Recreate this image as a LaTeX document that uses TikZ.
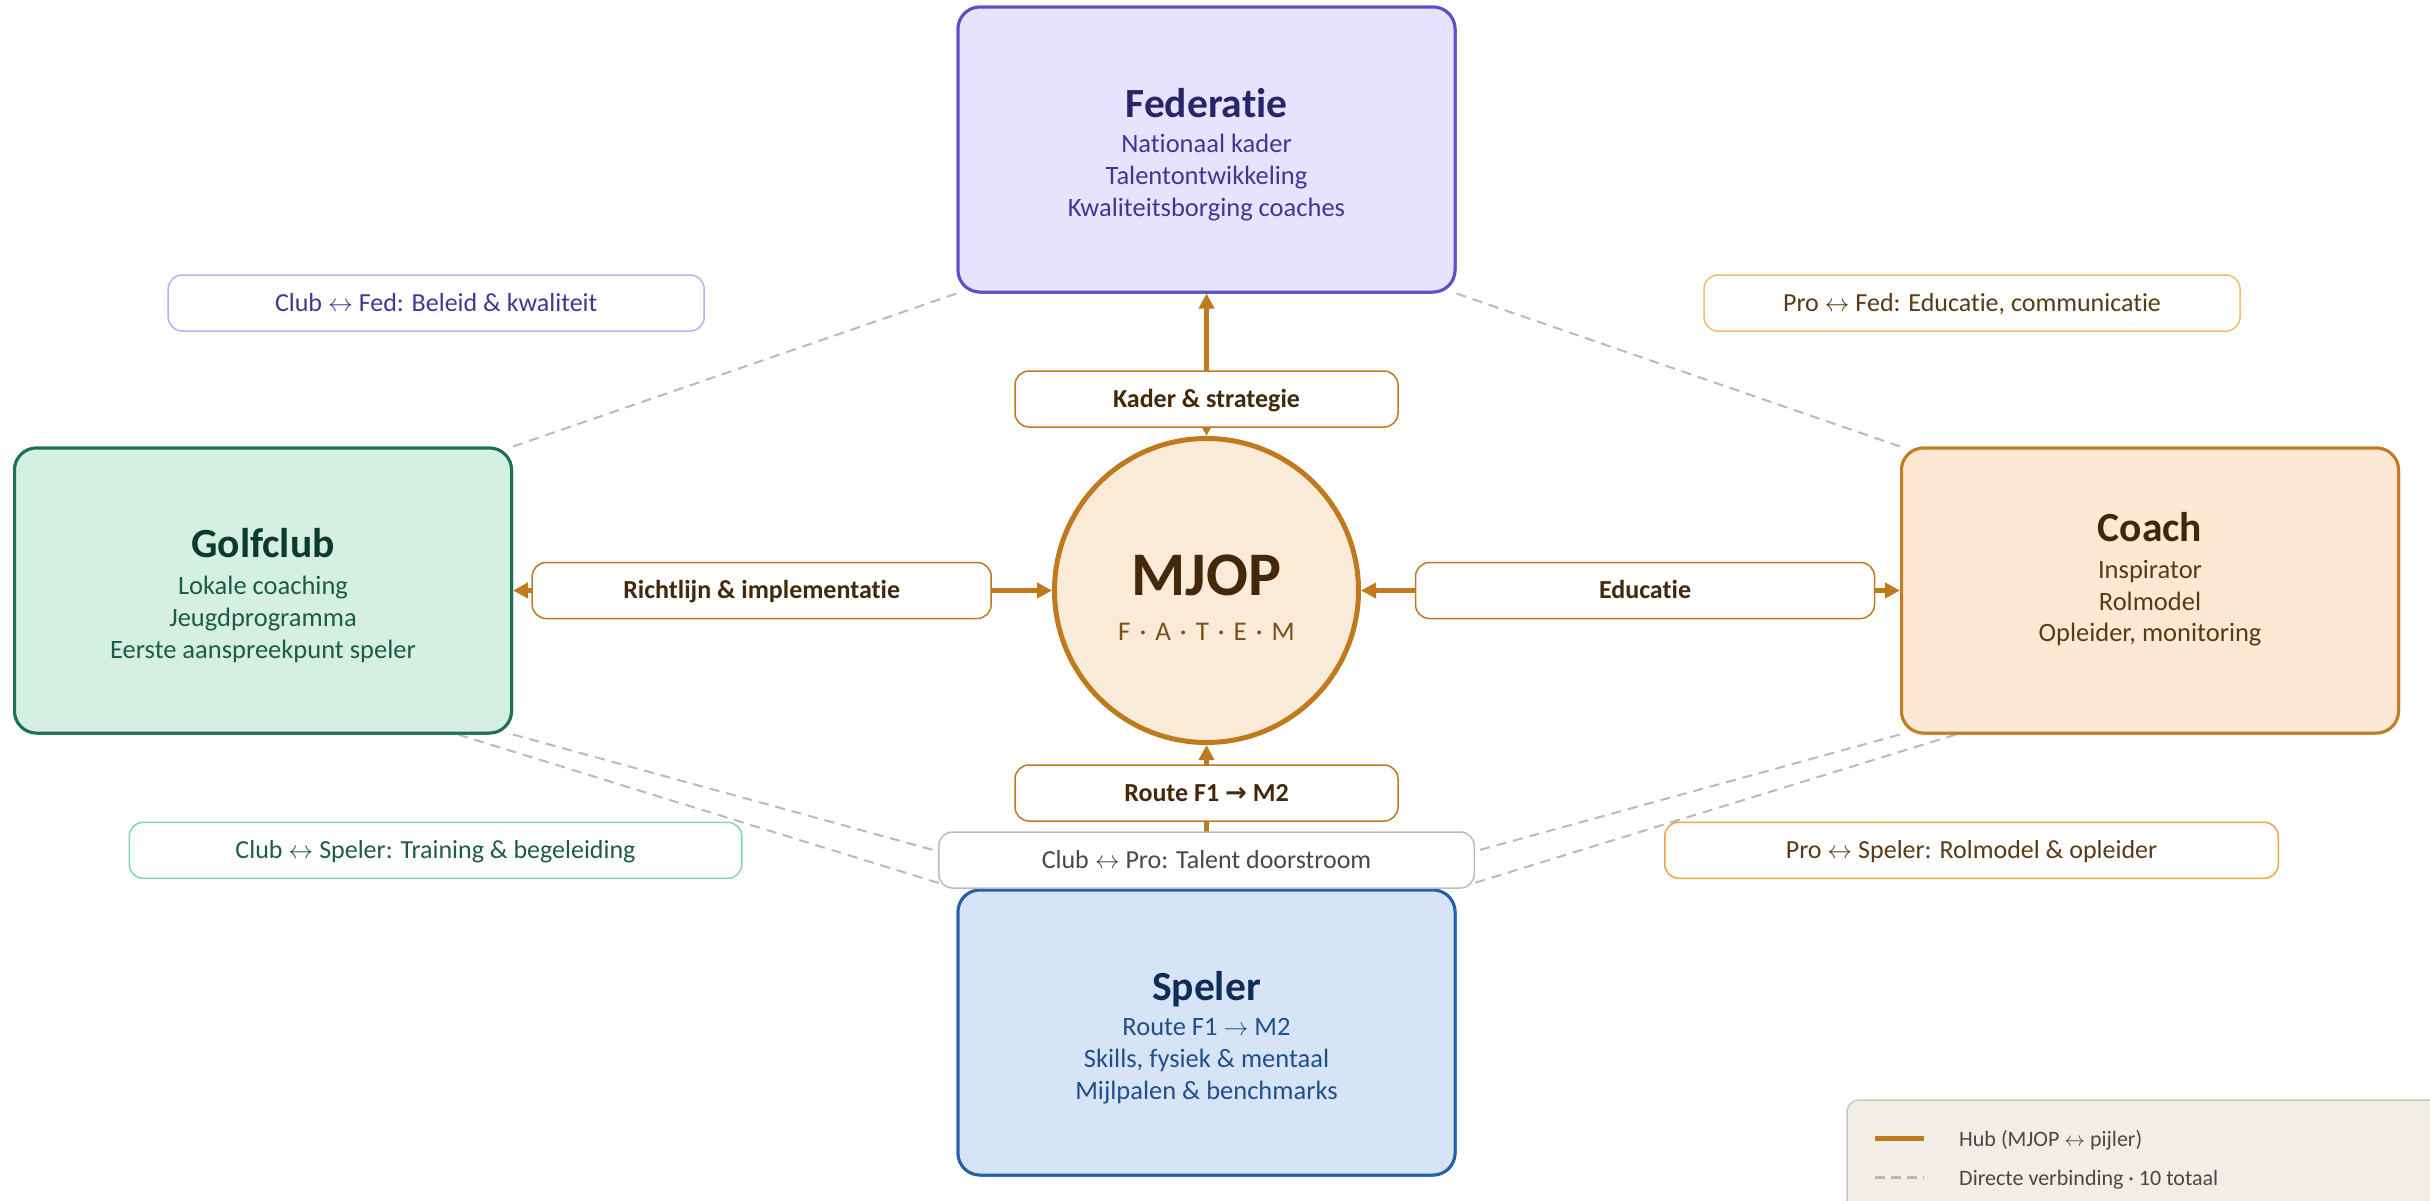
\documentclass[tikz,border=0pt]{standalone}
\usepackage{fontspec}
\setmainfont[Ligatures={NoCommon,NoRequired,NoContextual}]{Carlito}
\newfontfamily\symfont{DejaVu Sans}
\usetikzlibrary{arrows.meta,calc}
\definecolor{fedfill}{HTML}{E7E3FC}\definecolor{feddraw}{HTML}{5B50C6}
\definecolor{fedtitle}{HTML}{2A2468}\definecolor{fedtext}{HTML}{3F3797}
\definecolor{gcfill}{HTML}{D5EFE2}\definecolor{gcdraw}{HTML}{1E6F57}
\definecolor{gctitle}{HTML}{0C3B2D}\definecolor{gctext}{HTML}{1C5C46}
\definecolor{cofill}{HTML}{FDE8D3}\definecolor{codraw}{HTML}{C27C22}
\definecolor{cotitle}{HTML}{41270A}\definecolor{cotext}{HTML}{5A3A14}
\definecolor{spfill}{HTML}{D7E4F5}\definecolor{spdraw}{HTML}{2462A8}
\definecolor{sptitle}{HTML}{0F2D58}\definecolor{sptext}{HTML}{1F4F8C}
\definecolor{mjfill}{HTML}{FAEBD8}\definecolor{hubc}{HTML}{BF7A1E}
\definecolor{mjtext}{HTML}{43280A}\definecolor{fatem}{HTML}{7C5019}
\definecolor{dashc}{HTML}{BDBAB3}
\definecolor{bclubfed}{HTML}{B9B0F2}\definecolor{bprofed}{HTML}{F2BE66}
\definecolor{bclubsp}{HTML}{84D5B4}\definecolor{bprosp}{HTML}{EFA63F}
\definecolor{bclubpro}{HTML}{BFBCB6}\definecolor{greytext}{HTML}{4B4843}
\definecolor{legfill}{HTML}{F1EEE8}\definecolor{legdraw}{HTML}{C9C5BD}
\newcommand\lrarrow{$\leftrightarrow$}
\newcommand\rarrow{$\rightarrow$}
\begin{document}
\begin{tikzpicture}[x=1pt,y=-1pt,
  pillar/.style={draw, line width=3pt, rounded corners=22pt, minimum width=497pt, minimum height=285pt, inner sep=0pt},
  ptitle/.style={anchor=base, inner sep=0pt, font=\bfseries\fontsize{41.5}{48}\selectfont},
  pbody/.style={anchor=base, inner sep=0pt, font=\fontsize{26.5}{31}\selectfont},
  hubline/.style={draw=hubc, line width=5pt, {Triangle[length=15pt,width=15pt]}-{Triangle[length=15pt,width=15pt]}},
  hublabel/.style={draw=hubc, fill=white, line width=1.5pt, rounded corners=14pt, minimum height=56pt, inner sep=0pt, text=mjtext, font=\bfseries\fontsize{26}{30}\selectfont, text height=20pt, text depth=3.3pt},
  pairlabel/.style={fill=white, line width=1.5pt, rounded corners=14pt, minimum height=56pt, inner sep=0pt, font=\fontsize{26}{30}\selectfont, text height=20pt, text depth=3.3pt},
  direct/.style={draw=dashc, line width=2pt, dash pattern=on 10pt off 7pt}]
\useasboundingbox (0,0) rectangle (2430,1200);
\fill[white] (0,0) rectangle (2430,1200);

% pillar boxes (defined first for anchors, drawn again on top of dashed lines)
\path (1206.5,149.5) node[pillar, fill=fedfill, draw=feddraw] (fed) {}
      (263,590.5)    node[pillar, fill=gcfill, draw=gcdraw] (gc) {}
      (2150,590.5)   node[pillar, fill=cofill, draw=codraw] (coach) {}
      (1206.5,1032.5) node[pillar, fill=spfill, draw=spdraw] (spel) {};

% direct (dashed) connections
\coordinate (gcB) at ($(gc.south east)+(-55,0)$);
\coordinate (coB) at ($(coach.south west)+(56,0)$);
\coordinate (cpMid) at (1206.5,925);
\draw[direct] (gc.north east) -- (fed.south west);
\draw[direct] (fed.south east) -- (coach.north west);
\draw[direct] (gcB) -- (spel.north west);
\draw[direct] (coB) -- (spel.north east);
\draw[direct] (gc.south east) -- (cpMid) -- (coach.south west);

% redraw pillars over lines
\path (1206.5,149.5) node[pillar, fill=fedfill, draw=feddraw] (fed) {}
      (263,590.5)    node[pillar, fill=gcfill, draw=gcdraw] (gc) {}
      (2150,590.5)   node[pillar, fill=cofill, draw=codraw] (coach) {}
      (1206.5,1032.5) node[pillar, fill=spfill, draw=spdraw] (spel) {};

% pillar texts
\node[ptitle, text=fedtitle] (fedT) at (1206.5,117) {Federatie};
\node[pbody, text=fedtext] (fedL1) at (1206.5,152.7) {Nationaal kader};
\node[pbody, text=fedtext] (fedL2) at (1206.5,184.3) {Talentontwikkeling};
\node[pbody, text=fedtext] (fedL3) at (1206.5,216) {Kwaliteitsborging coaches};

\node[ptitle, text=gctitle] (gcT) at (263,557.3) {Golfclub};
\node[pbody, text=gctext] (gcL1) at (263,594) {Lokale coaching};
\node[pbody, text=gctext] (gcL2) at (263,626) {Jeugdprogramma};
\node[pbody, text=gctext] (gcL3) at (263,658) {Eerste aanspreekpunt speler};

\node[ptitle, text=cotitle] (coT) at (2150,541.7) {Coach};
\node[pbody, text=cotext] (coL1) at (2150,578.3) {Inspirator};
\node[pbody, text=cotext] (coL2) at (2150,610) {Rolmodel};
\node[pbody, text=cotext] (coL3) at (2150,641.7) {Opleider, monitoring};

\node[ptitle, text=sptitle] (spT) at (1206.5,1000) {Speler};
\node[pbody, text=sptext] (spL1) at (1206.5,1035.7) {Route F1 \rarrow{} M2};
\node[pbody, text=sptext] (spL2) at (1206.5,1067.4) {Skills, fysiek \& mentaal};
\node[pbody, text=sptext] (spL3) at (1206.5,1099) {Mijlpalen \& benchmarks};

% hub circle
\node[circle, draw=hubc, fill=mjfill, line width=5pt, minimum size=304pt, inner sep=0pt] (mjop) at (1206.5,590.5) {};
\node[anchor=base, inner sep=0pt, text=mjtext, font=\bfseries\fontsize{62}{70}\selectfont] (mjT) at (1206.5,595) {MJOP};
\node[anchor=base, inner sep=0pt, text=fatem, font=\fontsize{27}{30}\selectfont] (mjS) at (1206.5,640) {F\,\,·\,\,A\,\,·\,\,T\,\,·\,\,E\,\,·\,\,M};

% hub connections
\draw[hubline] (mjop) -- (fed);
\draw[hubline] (mjop) -- (gc);
\draw[hubline] (mjop) -- (coach);
\draw[hubline] (mjop) -- (spel);

% hub labels
\node[hublabel, minimum width=383pt] (kader) at (1206.5,399) {Kader \& strategie};
\node[hublabel, minimum width=459pt] (richt) at (761.7,590.5) {Richtlijn \& implementatie};
\node[hublabel, minimum width=459pt] (educ) at (1645,590.5) {Educatie};
\node[hublabel, minimum width=383pt] (route) at (1206.5,793) {Route F1 {\symfont\bfseries →} M2};

% pair labels
\node[pairlabel, draw=bclubfed, text=fedtext, minimum width=536pt] (lClubFed) at (436.2,303) {Club \lrarrow{} Fed: Beleid \& kwaliteit};
\node[pairlabel, draw=bprofed, text=cotext, minimum width=536pt] (lProFed) at (1972,303) {Pro \lrarrow{} Fed: Educatie, communicatie};
\node[pairlabel, draw=bclubsp, text=gctext, minimum width=612.5pt] (lClubSp) at (435.5,850.3) {Club \lrarrow{} Speler: Training \& begeleiding};
\node[pairlabel, draw=bprosp, text=cotext, minimum width=613.5pt] (lProSp) at (1971.5,850.3) {Pro \lrarrow{} Speler: Rolmodel \& opleider};
\node[pairlabel, draw=bclubpro, text=greytext, minimum width=535.5pt] (lClubPro) at (1206.5,860) {Club \lrarrow{} Pro: Talent doorstroom};

% legend
\draw[fill=legfill, draw=legdraw, line width=1.5pt, rounded corners=12pt] (1847,1100) rectangle (2460,1240);
\coordinate (lg1a) at (1875,1138.5); \coordinate (lg1b) at (1924,1138.5);
\coordinate (lg2a) at (1875,1177.5); \coordinate (lg2b) at (1924,1177.5);
\draw[draw=hubc, line width=5pt] (lg1a) -- (lg1b);
\draw[draw=dashc, line width=3pt, dash pattern=on 10pt off 6pt] (lg2a) -- (lg2b);
\node[anchor=base west, inner sep=0pt, text=greytext, font=\fontsize{22}{26}\selectfont] (lgT1) at (1959,1146.5) {Hub (MJOP \lrarrow{} pijler)};
\node[anchor=base west, inner sep=0pt, text=greytext, font=\fontsize{22}{26}\selectfont] (lgT2) at (1959,1185.5) {Directe verbinding · 10 totaal};
\end{tikzpicture}
\end{document}
